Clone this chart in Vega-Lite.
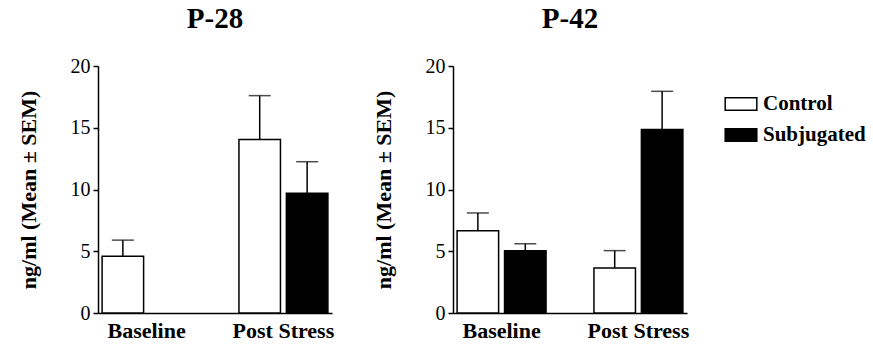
{
  "$schema": "https://vega.github.io/schema/vega-lite/v6.json",
  "padding": {"left": 17, "top": 5, "right": 1, "bottom": 5},
  "background": "white",
  "config": {
    "font": "Liberation Serif",
    "view": {"stroke": null},
    "axis": {"labelFont": "Liberation Serif", "titleFont": "Liberation Serif", "domainColor": "black", "domainWidth": 1.5, "tickColor": "black", "tickWidth": 1.5, "labelColor": "black", "titleColor": "black", "grid": false},
    "legend": {"labelFont": "Liberation Serif", "titleFont": "Liberation Serif"},
    "title": {"font": "Liberation Serif", "fontSize": 29, "fontWeight": "bold", "color": "black", "offset": 22},
    "concat": {"spacing": 38}
  },
  "data": {"values": [
    {"panel": "P-28", "phase": "Baseline", "group": "Control", "mean": 4.6, "upper": 5.9},
    {"panel": "P-28", "phase": "Post Stress", "group": "Control", "mean": 14.05, "upper": 17.6},
    {"panel": "P-28", "phase": "Post Stress", "group": "Subjugated", "mean": 9.7, "upper": 12.25},
    {"panel": "P-42", "phase": "Baseline", "group": "Control", "mean": 6.65, "upper": 8.1},
    {"panel": "P-42", "phase": "Baseline", "group": "Subjugated", "mean": 5.05, "upper": 5.6},
    {"panel": "P-42", "phase": "Post Stress", "group": "Control", "mean": 3.65, "upper": 5.05},
    {"panel": "P-42", "phase": "Post Stress", "group": "Subjugated", "mean": 14.85, "upper": 17.95}
  ]},
  "hconcat": [
    {
      "title": "P-28",
      "width": 234,
      "height": 247,
      "transform": [{"filter": "datum.panel === 'P-28'"}],
      "encoding": {
        "x": {"field": "phase", "type": "nominal", "sort": ["Baseline", "Post Stress"],
              "scale": {"paddingInner": 0.35, "paddingOuter": 0.03},
              "axis": {"title": null, "labelAngle": 0, "ticks": false, "tickSize": 0, "labelFontSize": 22, "labelFontWeight": "bold", "labelPadding": 7}},
        "xOffset": {"field": "group", "type": "nominal", "sort": ["Control", "Subjugated"], "scale": {"domain": ["Control", "Subjugated"], "paddingInner": 0.125, "paddingOuter": 0}}
      },
      "layer": [
        {"mark": {"type": "rule", "strokeWidth": 1.5, "color": "black"},
         "encoding": {"y": {"field": "mean", "type": "quantitative", "scale": {"domain": [0, 20]},
                            "axis": {"values": [0, 5, 10, 15, 20], "tickSize": 5, "labelFontSize": 20, "labelPadding": 3, "title": "ng/ml (Mean ± SEM)", "titleFontSize": 22, "titleFontWeight": "bold", "titlePadding": 30}},
                      "y2": {"field": "upper"}}},
        {"mark": {"type": "tick", "size": 22, "thickness": 1.5, "color": "black"},
         "encoding": {"y": {"field": "upper", "type": "quantitative"}}},
        {"mark": {"type": "bar", "stroke": "black", "strokeWidth": 1.5},
         "encoding": {"y": {"field": "mean", "type": "quantitative"},
                      "fill": {"field": "group", "type": "nominal", "scale": {"domain": ["Control", "Subjugated"], "range": ["white", "black"]},
                               "legend": {"title": " ", "titleFontSize": 12, "titlePadding": 9, "labelFontSize": 21, "labelFontWeight": "bold", "labelColor": "black", "symbolType": "M-1,-0.4H1V0.4H-1Z", "symbolSize": 1000, "symbolStrokeColor": "black", "symbolStrokeWidth": 1.5, "labelOffset": 5, "rowPadding": 4, "offset": 35, "padding": 0}}}}
      ]
    },
    {
      "title": "P-42",
      "width": 234,
      "height": 247,
      "transform": [{"filter": "datum.panel === 'P-42'"}],
      "encoding": {
        "x": {"field": "phase", "type": "nominal", "sort": ["Baseline", "Post Stress"],
              "scale": {"paddingInner": 0.35, "paddingOuter": 0.03},
              "axis": {"title": null, "labelAngle": 0, "ticks": false, "tickSize": 0, "labelFontSize": 22, "labelFontWeight": "bold", "labelPadding": 7}},
        "xOffset": {"field": "group", "type": "nominal", "sort": ["Control", "Subjugated"], "scale": {"domain": ["Control", "Subjugated"], "paddingInner": 0.125, "paddingOuter": 0}}
      },
      "layer": [
        {"mark": {"type": "rule", "strokeWidth": 1.5, "color": "black"},
         "encoding": {"y": {"field": "mean", "type": "quantitative", "scale": {"domain": [0, 20]},
                            "axis": {"values": [0, 5, 10, 15, 20], "tickSize": 5, "labelFontSize": 20, "labelPadding": 3, "title": "ng/ml (Mean ± SEM)", "titleFontSize": 22, "titleFontWeight": "bold", "titlePadding": 30}},
                      "y2": {"field": "upper"}}},
        {"mark": {"type": "tick", "size": 22, "thickness": 1.5, "color": "black"},
         "encoding": {"y": {"field": "upper", "type": "quantitative"}}},
        {"mark": {"type": "bar", "stroke": "black", "strokeWidth": 1.5},
         "encoding": {"y": {"field": "mean", "type": "quantitative"},
                      "fill": {"field": "group", "type": "nominal", "scale": {"domain": ["Control", "Subjugated"], "range": ["white", "black"]}}}}
      ]
    }
  ]
}
